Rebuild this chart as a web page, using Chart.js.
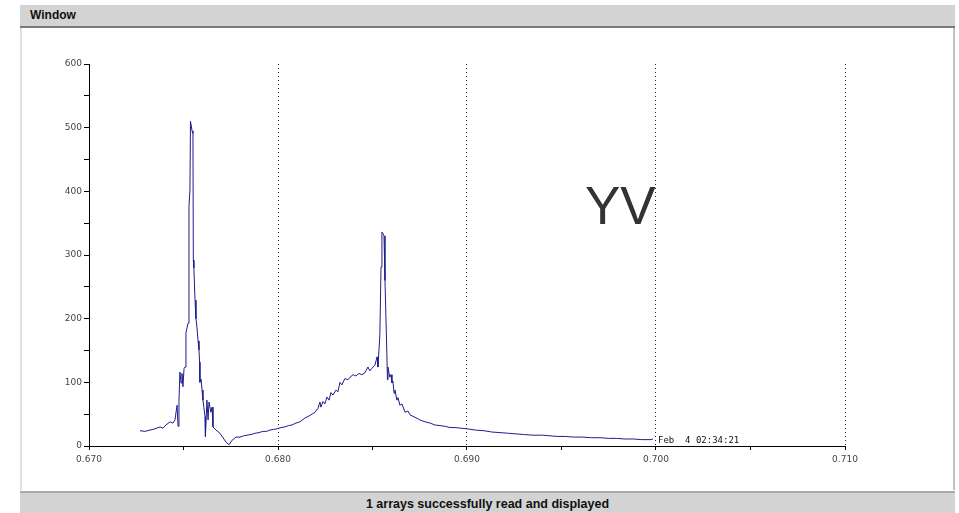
<!DOCTYPE html>
<html>
<head>
<meta charset="utf-8">
<script src="https://cdn.jsdelivr.net/npm/chart.js@4/dist/chart.umd.min.js"></script>
<style>
  html, body { margin: 0; padding: 0; background: #fff; }
  body { width: 959px; height: 513px; position: relative; overflow: hidden; font-family: 'Liberation Sans', Arial, sans-serif; }
  .titlebar { position: absolute; left: 20px; top: 5px; width: 935px; height: 21px; background: #d3d3d3; border-bottom: 2px solid #7a7a7a; }
  .titlebar span { position: absolute; left: 10px; top: 3px; font-size: 12px; font-weight: bold; color: #111; }
  .content { position: absolute; left: 20px; top: 28px; width: 931px; height: 462px; border-left: 2px solid #e0e0e0; border-right: 2px solid #c0c0c0; background: #fff; }
  .status { position: absolute; left: 20px; top: 491px; width: 935px; height: 22px; background: #d3d3d3; border-top: 2px solid #a8a8a8; text-align: center; }
  .status span { font-size: 12.5px; font-weight: bold; color: #111; line-height: 22px; }
  .yv { position: absolute; left: 585px; top: 175px; font-size: 53px; color: #333; font-family: 'Liberation Sans', Arial, sans-serif; }
  canvas { position: absolute; left: 0; top: 0; }
</style>
</head>
<body>
<div class="titlebar"><span>Window</span></div>
<div class="content"></div>
<div class="status"><span>1 arrays successfully read and displayed</span></div>
<canvas id="chart" width="959" height="513"></canvas>
<div class="yv">YV</div>
<script>
// spectrum (x, counts)
const xValues = [
  0.67270, 0.67296, 0.67323, 0.67349, 0.67376, 0.67391, 0.67407, 0.67429, 0.67444, 0.67455,
  0.67460, 0.67466, 0.67471, 0.67476, 0.67481, 0.67487, 0.67492, 0.67497, 0.67503, 0.67508,
  0.67513, 0.67518, 0.67524, 0.67529, 0.67534, 0.67537, 0.67540, 0.67545, 0.67550, 0.67552,
  0.67555, 0.67561, 0.67566, 0.67571, 0.67577, 0.67582, 0.67585, 0.67587, 0.67593, 0.67598,
  0.67603, 0.67608, 0.67614, 0.67616, 0.67624, 0.67630, 0.67635, 0.67645, 0.67651, 0.67656,
  0.67672, 0.67693, 0.67709, 0.67725, 0.67741, 0.67757, 0.67778, 0.67799, 0.67818, 0.67836,
  0.67857, 0.67878, 0.67900, 0.67920, 0.67940, 0.67957, 0.67975, 0.67995, 0.68016, 0.68037,
  0.68055, 0.68074, 0.68095, 0.68116, 0.68143, 0.68169, 0.68185, 0.68196, 0.68211, 0.68222,
  0.68227, 0.68238, 0.68248, 0.68259, 0.68270, 0.68280, 0.68291, 0.68307, 0.68317, 0.68328,
  0.68338, 0.68354, 0.68370, 0.68381, 0.68397, 0.68412, 0.68428, 0.68444, 0.68460, 0.68476,
  0.68486, 0.68497, 0.68513, 0.68524, 0.68529, 0.68534, 0.68539, 0.68545, 0.68550, 0.68555,
  0.68561, 0.68566, 0.68571, 0.68576, 0.68579, 0.68582, 0.68587, 0.68592, 0.68598, 0.68603,
  0.68608, 0.68614, 0.68619, 0.68629, 0.68635, 0.68645, 0.68656, 0.68672, 0.68688, 0.68698,
  0.68725, 0.68751, 0.68778, 0.68805, 0.68830, 0.68857, 0.68883, 0.68910, 0.68936, 0.68968,
  0.69000, 0.69045, 0.69090, 0.69130, 0.69175, 0.69220, 0.69260, 0.69300, 0.69350, 0.69400,
  0.69439, 0.69480, 0.69520, 0.69565, 0.69610, 0.69660, 0.69704, 0.69750, 0.69790, 0.69835,
  0.69880, 0.69925, 0.69968, 0.69984
];
const counts = [
  24, 23, 25, 27, 30, 28, 33, 38, 36, 41,
  52, 64, 31, 70, 116, 99, 114, 93, 122, 124,
  178, 185, 193, 376, 402, 510, 505, 495, 491, 292,
  280, 229, 200, 187, 165, 151, 132, 100, 105, 88,
  72, 60, 46, 15, 72, 41, 69, 53, 61, 30,
  25, 20, 13, 6, 2, 9, 14, 14, 16, 17,
  18, 20, 21, 23, 23, 25, 26, 27, 29, 30,
  32, 33, 36, 38, 44, 48, 51, 53, 59, 69,
  61, 70, 66, 77, 72, 84, 80, 88, 85, 100,
  96, 106, 104, 108, 112, 110, 114, 112, 115, 124,
  118, 122, 127, 140, 124, 150, 175, 281, 336, 334,
  330, 260, 203, 146, 104, 124, 115, 108, 112, 99,
  102, 83, 88, 72, 76, 64, 66, 53, 55, 49,
  45, 41, 38, 36, 33, 32, 31, 29, 29, 28,
  27, 25, 24, 22, 21, 20, 19, 18, 17, 17,
  16, 15, 15, 14, 14, 13, 13, 12, 12, 11,
  11, 10, 10, 11
];
const timestamp = 'Feb  4 02:34:21';

const isMajorX = v => Math.round(v * 1000) % 10 === 0;

const stampPlugin = {
  id: 'stamp',
  afterDatasetsDraw(chart) {
    const { ctx, scales: { x, y } } = chart;
    ctx.save();
    ctx.font = '9px "DejaVu Sans Mono", monospace';
    ctx.fillStyle = '#111';
    ctx.textBaseline = 'alphabetic';
    ctx.fillText(timestamp, x.getPixelForValue(0.700) + 2, y.getPixelForValue(0) - 3);
    ctx.restore();
  }
};

new Chart(document.getElementById('chart'), {
  type: 'line',
  data: {
    datasets: [{
      data: xValues.map((v, i) => ({ x: v, y: counts[i] })),
      borderColor: '#1c1c8c',
      borderWidth: 1,
      pointRadius: 0,
      tension: 0,
      fill: false,
    }],
  },
  options: {
    responsive: false,
    animation: false,
    layout: { padding: { left: 0, top: 64, right: 114, bottom: 0 } },
    plugins: { legend: { display: false }, tooltip: { enabled: false } },
    scales: {
      x: {
        type: 'linear',
        min: 0.670,
        max: 0.710,
        afterFit: s => { s.height = 67; },
        ticks: {
          stepSize: 0.005,
          autoSkip: false,
          maxRotation: 0,
          padding: 4,
          color: '#444',
          font: { family: 'DejaVu Sans', size: 9 },
          callback: v => isMajorX(v) ? v.toFixed(3) : '',
        },
        grid: {
          color: c => (c.tick && isMajorX(c.tick.value) && c.tick.value > 0.6705) ? '#222' : 'rgba(0,0,0,0)',
          tickColor: '#000',
          tickLength: 4,
          lineWidth: 1,
        },
        border: { color: '#000', width: 1, dash: [1, 3] },
      },
      y: {
        min: 0,
        max: 600,
        afterFit: s => { s.width = 89; },
        ticks: {
          stepSize: 50,
          autoSkip: false,
          padding: 2,
          color: '#444',
          font: { family: 'DejaVu Sans', size: 9 },
          callback: v => v % 100 === 0 ? v : '',
        },
        grid: {
          drawOnChartArea: false,
          tickColor: '#000',
          tickLength: 5,
        },
        border: { color: '#000', width: 1 },
      },
    },
  },
  plugins: [stampPlugin],
});
</script>
</body>
</html>
